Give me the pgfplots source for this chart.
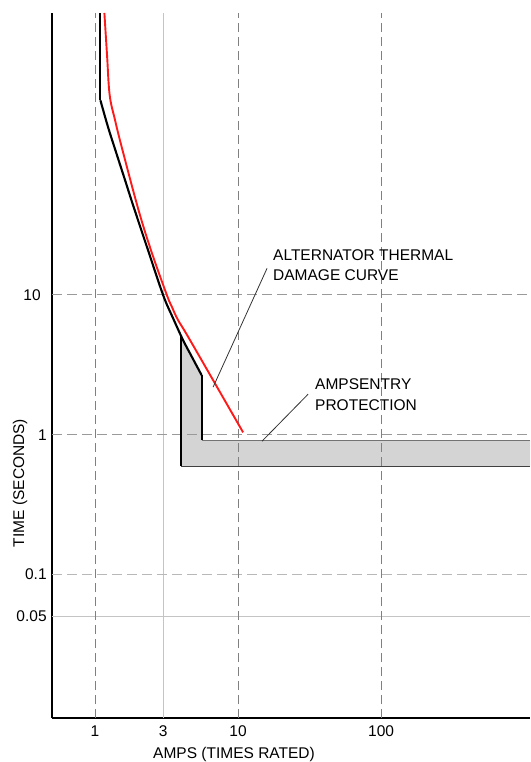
\documentclass[border=0pt]{standalone}
\usepackage{pgfplots}
\pgfplotsset{compat=1.18}
\usepackage{fontspec}
\setmainfont{Liberation Sans}
\definecolor{bandgray}{HTML}{D4D4D4}
\definecolor{gridA}{HTML}{808080}
\definecolor{gridB}{HTML}{9A9A9A}
\definecolor{gridC}{HTML}{B8B8B8}
\definecolor{gridS}{HTML}{C4C4C4}
\definecolor{curvered}{HTML}{FF1A1A}
\newcommand{\lbl}{\fontsize{15.5}{18}\selectfont}
\begin{document}
\begin{tikzpicture}[font=\lbl]
\begin{axis}[
  at={(52pt,44pt)}, anchor=south west,
  scale only axis, width=478pt, height=705pt,
  xmode=log, ymode=log,
  xmin=0.5, xmax=1100, ymin=0.0094, ymax=1040,
  axis lines=left,
  axis line style={-, line width=1.7pt, black},
  xtick={1,3,10,100}, xticklabels={1,3,10,100},
  ytick={0.05,0.1,1,10}, yticklabels={0.05,0.1,1,{10\hspace*{6pt}}},
  xminorticks=false, yminorticks=false,
  major tick length=0pt, minor tick length=0pt,
  tick label style={font=\lbl, text=black},
  xticklabel style={yshift=-4pt},
  yticklabel style={xshift=-1.8pt},
  /pgf/number format/assume math mode=true,
  clip=true,
]
% band
\addplot[fill=bandgray, draw=none] coordinates {
  (4.0,5.09) (4.125,4.75) (4.768,3.585) (5.557,2.67) (5.557,0.913)
  (1100,0.913) (1100,0.595) (4.0,0.595) (4.0,5.09)};
% grid lines
\draw[gridS, line width=0.9pt] (axis cs:3,0.0094) -- (axis cs:3,1040);
\draw[gridS, line width=0.9pt] (axis cs:0.5,0.05) -- (axis cs:1100,0.05);
\draw[gridC, line width=1.4pt, dash pattern=on 10pt off 5pt] (axis cs:0.5,0.1) -- (axis cs:1100,0.1);
\draw[gridB, line width=1.1pt, dash pattern=on 10pt off 5pt] (axis cs:0.5,10) -- (axis cs:1100,10);
\draw[gridB, line width=1.1pt, dash pattern=on 10pt off 5pt] (axis cs:0.5,1) -- (axis cs:1100,1);
\draw[gridA, line width=1.1pt, dash pattern=on 9pt off 5pt] (axis cs:1,0.0094) -- (axis cs:1,1040);
\draw[gridA, line width=1.1pt, dash pattern=on 9pt off 5pt] (axis cs:10,0.0094) -- (axis cs:10,1040);
\draw[gridA, line width=1.1pt, dash pattern=on 9pt off 5pt] (axis cs:100,0.0094) -- (axis cs:100,1040);
% band outline
\addplot[black, line width=1.6pt] coordinates {(4.0,5.09) (4.0,0.595)};
\addplot[black!75, line width=1pt] coordinates {(4.0,0.595) (1100,0.595)};
\addplot[black!55, line width=0.7pt] coordinates {(5.557,0.913) (1100,0.913)};
% ampsentry curve
\addplot[black, line width=2.1pt] coordinates {(1.09,1040) (1.09,247)};
\addplot[black, line width=2.1pt, smooth, tension=0.55] coordinates {
  (1.09,247) (1.233,158.6) (1.402,105) (1.621,66.3) (1.844,43.9)
  (2.347,20.9) (3.0,9.9) (3.511,6.82) (4.125,4.75) (4.768,3.585) (5.557,2.67)};
\addplot[black, line width=2.1pt] coordinates {(5.557,2.67) (5.557,0.913)};
% alternator thermal damage curve
\addplot[curvered, line width=1.9pt, smooth, tension=0.6] coordinates {
  (1.162,1040) (1.213,519.5) (1.265,270) (1.38,178) (1.537,114) (2.015,40.4)
  (2.5,19.9) (3.188,9.9) (3.45,8.2) (3.806,6.6) (4.616,4.75) (10.84,1.04)};
% leader lines
\draw[black!80, line width=0.8pt] (axis cs:15.95,15.5) -- (axis cs:6.69,2.19);
\draw[black!80, line width=0.8pt] (axis cs:30.9,1.95) -- (axis cs:14.7,0.898);
\end{axis}
\node[anchor=base west, inner sep=0pt] at (273pt,501.5pt) {ALTERNATOR THERMAL};
\node[anchor=base west, inner sep=0pt] at (273pt,481.5pt) {DAMAGE CURVE};
\node[anchor=base west, inner sep=0pt] at (315pt,372.5pt) {AMPSENTRY};
\node[anchor=base west, inner sep=0pt] at (315pt,351.5pt) {PROTECTION};
\node[rotate=90, inner sep=0pt] at (20pt,279pt) {TIME (SECONDS)};
\node[anchor=base, inner sep=0pt] at (234pt,4pt) {AMPS (TIMES RATED)};
\pgfresetboundingbox
\useasboundingbox (0,0) rectangle (530pt,762pt);
\end{tikzpicture}
\end{document}
